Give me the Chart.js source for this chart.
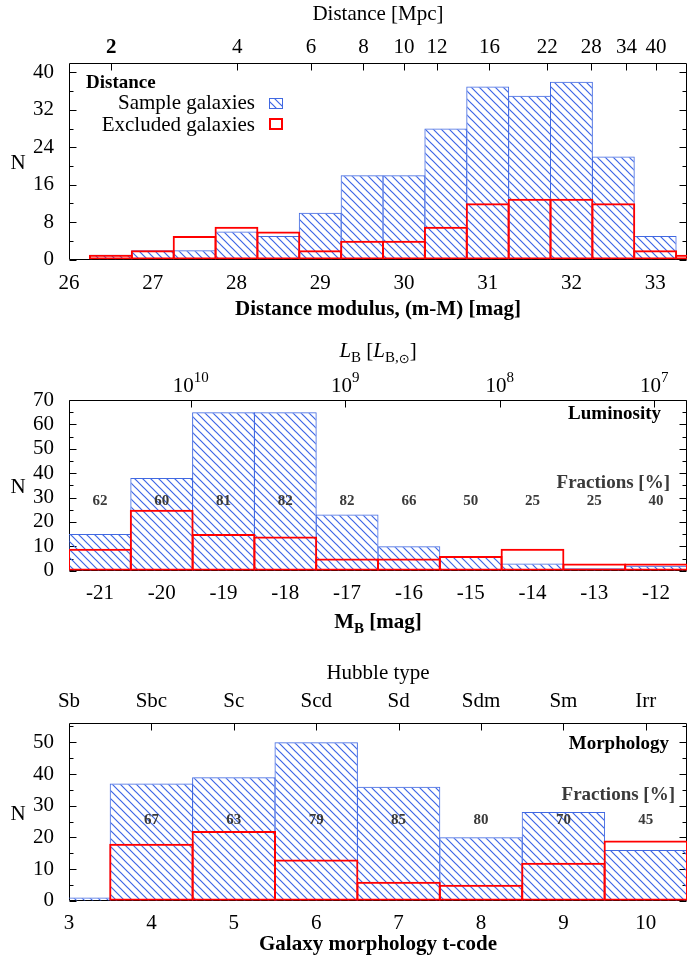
<!DOCTYPE html>
<html>
<head>
<meta charset="utf-8">
<script src="https://cdn.jsdelivr.net/npm/chart.js@4.4.1/dist/chart.umd.min.js"></script>
<style>
  html, body { margin: 0; padding: 0; background: #fff; }
  #page { position: relative; width: 692px; height: 957px; }
  canvas { position: absolute; left: 0; }
</style>
</head>
<body>
<div id="page">
  <canvas id="distChart" width="692" height="320" style="top:0px"></canvas>
  <canvas id="lumChart" width="692" height="320" style="top:320px"></canvas>
  <canvas id="morphChart" width="692" height="317" style="top:640px"></canvas>
</div>
<script>
// distance panel
const distModulus  = [26.5, 27, 27.5, 28, 28.5, 29, 29.5, 30, 30.5, 31, 31.5, 32, 32.5, 33, 33.5];
const distSample   = [1, 2, 2, 6, 5, 10, 18, 18, 28, 37, 35, 38, 22, 5, 0];
const distExcluded = [1, 2, 5, 7, 6, 2, 4, 4, 7, 12, 13, 13, 12, 2, 1];
const distTicks    = [26, 27, 28, 29, 30, 31, 32, 33];
const distMpcTicks = [2, 4, 6, 8, 10, 12, 16, 22, 28, 34, 40];
const distCountTicks = [0, 8, 16, 24, 32, 40];

// luminosity panel
const absMag       = [-21, -20, -19, -18, -17, -16, -15, -14, -13, -12];
const lumSample    = [15, 38, 65, 65, 23, 10, 6, 3, 1, 2];
const lumExcluded  = [9, 25, 15, 14, 5, 5, 6, 9, 3, 3];
const lumFractions = [62, 60, 81, 82, 82, 66, 50, 25, 25, 40];
const lumPowers    = [10, 9, 8, 7];
const lumCountTicks = [0, 10, 20, 30, 40, 50, 60, 70];

// morphology panel
const tCode          = [3, 4, 5, 6, 7, 8, 9, 10];
const morphSample    = [1, 37, 39, 50, 36, 20, 28, 16];
const morphExcluded  = [0, 18, 22, 13, 6, 5, 12, 19];
const morphFractions = [null, 67, 63, 79, 85, 80, 70, 45];
const hubbleTypes    = ['Sb', 'Sbc', 'Sc', 'Scd', 'Sd', 'Sdm', 'Sm', 'Irr'];
const morphCountTicks = [0, 10, 20, 30, 40, 50];

const M_SUN_B = 5.47;
const SERIF = '"Liberation Serif", "DejaVu Serif", serif';
const BLUE = '#4169e1';
const HATCH = '#3d66e6';
const RED = '#ff0000';
const PLOT_W = 618;
const FS = 21;

Chart.defaults.font.family = SERIF;
Chart.defaults.color = '#000';

function makeHatch(ctx, color, step) {
  const c = document.createElement('canvas');
  c.width = step; c.height = step;
  const g = c.getContext('2d');
  g.strokeStyle = color;
  g.lineWidth = 1.2;
  g.beginPath();
  g.moveTo(-1, -1); g.lineTo(step + 1, step + 1);
  g.moveTo(-1, step - 1); g.lineTo(1, step + 1);
  g.moveTo(step - 1, -1); g.lineTo(step + 1, 1);
  g.stroke();
  return ctx.createPattern(c, 'repeat');
}

function drawRuns(ctx, runs, x, y, align) {
  let w = 0;
  runs.forEach(r => { ctx.font = r.font; r.w = ctx.measureText(r.text).width; w += r.w; });
  let cx = align === 'center' ? x - w / 2 : align === 'right' ? x - w : x;
  ctx.textAlign = 'left';
  ctx.textBaseline = 'alphabetic';
  runs.forEach(r => {
    ctx.font = r.font;
    ctx.fillStyle = r.color || '#000';
    ctx.fillText(r.text, cx, y + (r.dy || 0));
    cx += r.w;
  });
}

// frame + inward ticks like gnuplot
const framePlugin = {
  id: 'frame',
  beforeDatasetsDraw(chart) {
    const { ctx, chartArea: a } = chart;
    const y = chart.scales.y, x2 = chart.scales.x2;
    const L = Math.round(a.left) + 0.5, R = Math.round(a.right) - 0.5;
    const T = Math.round(a.top) + 0.5, B = Math.round(a.bottom) - 0.5;
    ctx.save();
    ctx.strokeStyle = '#000';
    ctx.lineWidth = 1;
    ctx.beginPath();
    const seg = (x0, y0, x1, y1) => { ctx.moveTo(x0, y0); ctx.lineTo(x1, y1); };
    const vals = y.ticks.map(t => t.value);
    vals.forEach(v => {
      const p = Math.round(y.getPixelForValue(v)) + 0.5;
      seg(L, p, L + 7, p); seg(R - 7, p, R, p);
      const m = v + (vals[1] - vals[0]) / 2;
      if (m < y.max) {
        const q = Math.round(y.getPixelForValue(m)) + 0.5;
        seg(L, q, L + 4, q); seg(R - 4, q, R, q);
      }
    });
    x2.ticks.forEach(t => {
      const p = Math.round(x2.getPixelForValue(t.value)) + 0.5;
      if (p > L + 1 && p < R - 1) seg(p, T, p, T + 7);
    });
    ctx.rect(L, T, R - L, B - T);
    ctx.stroke();
    ctx.restore();
  }
};

const extras = {
  distChart(chart) {
    const { ctx, chartArea: a } = chart;
    ctx.save();
    drawRuns(ctx, [{ text: 'Distance', font: 'bold 19px ' + SERIF }], a.left + 17, 88, 'left');
    drawRuns(ctx, [{ text: 'Sample galaxies', font: '21px ' + SERIF }], a.left + 186, 109, 'right');
    drawRuns(ctx, [{ text: 'Excluded galaxies', font: '21px ' + SERIF }], a.left + 186, 131, 'right');
    ctx.fillStyle = chart.data.datasets[1].backgroundColor;
    ctx.fillRect(a.left + 200, 98, 13, 10);
    ctx.strokeStyle = BLUE; ctx.lineWidth = 1;
    ctx.strokeRect(a.left + 200.5, 98.5, 13, 10);
    ctx.strokeStyle = RED; ctx.lineWidth = 2;
    ctx.strokeRect(a.left + 201, 119, 12, 10);
    ctx.restore();
  },
  lumChart(chart) {
    const { ctx, chartArea: a } = chart;
    const x = chart.scales.x, y = chart.scales.y, x2 = chart.scales.x2;
    const cx = (a.left + a.right) / 2;
    ctx.save();
    // top axis labels 10^n at the x2 tick positions
    x2.ticks.forEach((t, i) => {
      drawRuns(ctx, [
        { text: '10', font: FS + 'px ' + SERIF },
        { text: String(lumPowers[i]), font: '15px ' + SERIF, dy: -10 }
      ], x2.getPixelForValue(t.value), 71.5, 'center');
    });
    drawRuns(ctx, [
      { text: 'L', font: 'italic 21px ' + SERIF },
      { text: 'B', font: '15px ' + SERIF, dy: 5 },
      { text: ' [', font: '21px ' + SERIF },
      { text: 'L', font: 'italic 21px ' + SERIF },
      { text: 'B,', font: '15px ' + SERIF, dy: 5 },
      { text: '⊙', font: '13px "DejaVu Sans"', dy: 6 },
      { text: ']', font: '21px ' + SERIF }
    ], cx, 37, 'center');
    drawRuns(ctx, [
      { text: 'M', font: 'bold 21px ' + SERIF },
      { text: 'B', font: 'bold 15px ' + SERIF, dy: 5 },
      { text: ' [mag]', font: 'bold 21px ' + SERIF }
    ], cx, 308, 'center');
    drawRuns(ctx, [{ text: 'Luminosity', font: 'bold 19px ' + SERIF }], a.right - 26, 99, 'right');
    drawRuns(ctx, [{ text: 'Fractions [%]', font: 'bold 19px ' + SERIF, color: '#3a3a3a' }], a.right - 17, 168, 'right');
    ctx.font = 'bold 15px ' + SERIF;
    ctx.fillStyle = '#3a3a3a';
    ctx.textAlign = 'center';
    ctx.textBaseline = 'middle';
    absMag.forEach((m, i) => {
      ctx.fillText(String(lumFractions[i]), x.getPixelForValue(m), y.getPixelForValue(28.6));
    });
    ctx.restore();
  },
  morphChart(chart) {
    const { ctx, chartArea: a } = chart;
    const x = chart.scales.x, y = chart.scales.y;
    ctx.save();
    drawRuns(ctx, [{ text: 'Morphology', font: 'bold 19px ' + SERIF }], a.right - 18, 109, 'right');
    drawRuns(ctx, [{ text: 'Fractions [%]', font: 'bold 19px ' + SERIF, color: '#3a3a3a' }], a.right - 12, 160, 'right');
    ctx.font = 'bold 15px ' + SERIF;
    ctx.fillStyle = '#3a3a3a';
    ctx.textAlign = 'center';
    ctx.textBaseline = 'middle';
    tCode.forEach((t, i) => {
      if (morphFractions[i] == null) return;
      ctx.fillText(String(morphFractions[i]), x.getPixelForValue(t), y.getPixelForValue(25.5));
    });
    ctx.restore();
  }
};

const extrasPlugin = {
  id: 'extras',
  afterDatasetsDraw(chart) {
    const f = extras[chart.canvas.id];
    if (f) f(chart);
  }
};

const nLabelPlugin = {
  id: 'nLabel',
  afterDraw(chart) {
    const c = chart.ctx, a = chart.chartArea;
    c.save();
    c.font = FS + 'px ' + SERIF;
    c.fillStyle = '#000';
    c.textAlign = 'center';
    c.textBaseline = 'middle';
    c.fillText('N', 18, (a.top + a.bottom) / 2 + 2);
    c.restore();
  }
};

function histChart(id, o) {
  const ctx = document.getElementById(id).getContext('2d');
  const hatch = makeHatch(ctx, HATCH, 8);
  const binPx = o.bin * PLOT_W / (o.xmax - o.xmin);
  const tickFont = { family: SERIF, size: FS, lineHeight: 1.2 };
  const noGrid = { display: false, drawTicks: false, tickLength: 0 };
  return new Chart(ctx, {
    type: 'bar',
    data: {
      datasets: [
        {
          label: 'Excluded galaxies',
          data: o.xs.map((v, i) => ({ x: v, y: o.excl[i] })),
          backgroundColor: 'rgba(0,0,0,0)',
          borderColor: RED,
          borderWidth: 2,
          borderSkipped: false,
          barPercentage: (binPx + 2) / binPx,
          categoryPercentage: 1,
          order: 0,
          clip: 0
        },
        {
          label: 'Sample galaxies',
          data: o.xs.map((v, i) => ({ x: v, y: o.sample[i] })),
          backgroundColor: hatch,
          borderColor: BLUE,
          borderWidth: 1,
          borderSkipped: 'start',
          barPercentage: (binPx + 1) / binPx,
          categoryPercentage: 1,
          order: 1,
          clip: 0
        }
      ]
    },
    options: {
      responsive: false,
      animation: false,
      devicePixelRatio: 1,
      layout: { padding: { left: 0, right: 5, top: 0, bottom: 0 } },
      datasets: { bar: { grouped: false } },
      plugins: { legend: { display: false }, tooltip: { enabled: false } },
      scales: {
        x: {
          type: 'linear', position: 'bottom', min: o.xmin, max: o.xmax, offset: false,
          grid: noGrid, border: { display: false },
          afterBuildTicks: s => { s.ticks = o.xTicks.map(v => ({ value: v })); },
          afterFit: s => { s.height = o.bottomH; },
          ticks: { font: tickFont, padding: o.bottomPad, maxRotation: 0, minRotation: 0, autoSkip: false, callback: v => String(v) },
          title: o.xTitle ? { display: true, text: o.xTitle, font: { family: SERIF, size: FS, weight: 'bold', lineHeight: 1 }, padding: { top: 0, bottom: o.xTitlePad } } : { display: false }
        },
        x2: {
          type: 'linear', position: 'top', min: o.xmin, max: o.xmax, offset: false,
          grid: noGrid, border: { display: false },
          afterBuildTicks: s => { s.ticks = o.topVals.map(v => ({ value: v })); },
          afterFit: s => { s.height = o.topH; },
          ticks: {
            display: !!o.topLabels,
            font: c => ({ family: SERIF, size: FS, lineHeight: 1.2, weight: (o.boldFirstTop && c.index === 0) ? 'bold' : 'normal' }),
            padding: o.topPad, maxRotation: 0, minRotation: 0, autoSkip: false,
            callback: (v, i) => o.topLabels ? o.topLabels[i] : ''
          },
          title: o.x2Title ? { display: true, text: o.x2Title, font: { family: SERIF, size: FS, lineHeight: 1 }, padding: { top: o.x2TitlePad, bottom: 0 } } : { display: false }
        },
        y: {
          type: 'linear', position: 'left', min: 0, max: o.ymax,
          grid: noGrid, border: { display: false },
          afterBuildTicks: s => { s.ticks = o.yTicks.map(v => ({ value: v })); },
          afterFit: s => { s.width = 69; },
          ticks: { font: tickFont, padding: 15, autoSkip: false, callback: v => String(v) },
          title: { display: false }
        }
      }
    },
    plugins: [framePlugin, extrasPlugin, nLabelPlugin]
  });
}

histChart('distChart', {
  xs: distModulus, sample: distSample, excl: distExcluded, bin: 0.5,
  xmin: 26, xmax: 33.38, xTicks: distTicks, ymax: 42, yTicks: distCountTicks,
  topVals: distMpcTicks.map(d => 5 * Math.log10(d) + 25),
  topLabels: distMpcTicks.map(String), boldFirstTop: true,
  topH: 63, bottomH: 60.5, topPad: 2.7, bottomPad: 10.9,
  xTitle: 'Distance modulus, (m-M) [mag]', xTitlePad: 0,
  x2Title: 'Distance [Mpc]', x2TitlePad: 4.2
});

histChart('lumChart', {
  xs: absMag, sample: lumSample, excl: lumExcluded, bin: 1,
  xmin: -21.5, xmax: -11.5, xTicks: absMag, ymax: 70, yTicks: lumCountTicks,
  topVals: lumPowers.map(p => M_SUN_B - 2.5 * p),
  topLabels: null,
  topH: 80, bottomH: 69.3, topPad: 3, bottomPad: 10
});

histChart('morphChart', {
  xs: tCode, sample: morphSample, excl: morphExcluded, bin: 1,
  xmin: 3, xmax: 10.5, xTicks: tCode, ymax: 56, yTicks: morphCountTicks,
  topVals: tCode, topLabels: hubbleTypes,
  topH: 83.3, bottomH: 56.3, topPad: 9, bottomPad: 10,
  xTitle: 'Galaxy morphology t-code', xTitlePad: 1.5,
  x2Title: 'Hubble type', x2TitlePad: 22.8
});
</script>
</body>
</html>
